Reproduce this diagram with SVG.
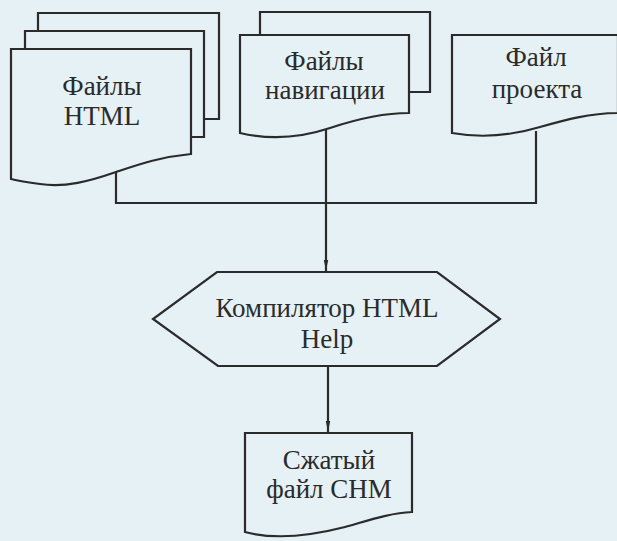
<svg xmlns="http://www.w3.org/2000/svg" width="617" height="541" viewBox="0 0 617 541">
<defs>
<style>
.s{fill:none;stroke:#2b2b2b;stroke-width:2.2;stroke-linejoin:miter}
.f{fill:#e6f1f5;stroke:#2b2b2b;stroke-width:2.2}
.t{font-family:"Liberation Serif","Times New Roman",serif;font-size:27px;fill:#2b2b2b;text-anchor:middle}
.c{fill:none;stroke:#2b2b2b;stroke-width:2.2}
</style>
<marker id="ah" markerWidth="12" markerHeight="6" refX="11" refY="3" orient="auto" markerUnits="userSpaceOnUse">
<path d="M0,0.8 L11,3 L0,5.2 Z" fill="#2b2b2b"/>
</marker>
</defs>
<rect width="617" height="541" fill="#e6f1f5"/>
<g id="connectors">
<polyline class="c" points="116,172 116,203 536,203 536,131"/>
<line class="c" x1="326" y1="129" x2="326" y2="271" marker-end="url(#ah)"/>
<line class="c" x1="328" y1="366" x2="328" y2="432" marker-end="url(#ah)"/>
</g>
<g id="html-files">
<polyline class="s" points="38,31 38,13 219,13 219,119 204,119"/>
<polyline class="s" points="25,49 25,31 204,31 204,137 191,137"/>
<path class="f" d="M11,49 L191,49 L191,154 C160,157 140,164 116,172 C90,181 65,188 40,184 C25,182 15,180 11,179 Z"/>
<text class="t" x="102" y="95">Файлы</text>
<text class="t" x="102" y="125">HTML</text>
</g>
<g id="nav-files">
<polyline class="s" points="260,35 260,12 430,12 430,92 409,92"/>
<path class="f" d="M240,35 L409,35 L409,113 C385,113 360,118 330,128 C300,138 270,140 240,133 Z"/>
<text class="t" x="324" y="70">Файлы</text>
<text class="t" x="325" y="99">навигации</text>
</g>
<g id="project-file">
<path class="f" d="M452,35 L618,35 L618,113 C590,113 565,120 540,127 C510,136 480,138 452,133 Z"/>
<text class="t" x="536" y="66">Файл</text>
<text class="t" x="537" y="98">проекта</text>
</g>
<g id="compiler">
<polygon class="f" points="217,272 437,272 500,319 437,366 218,366 153,319"/>
<text class="t" x="327" y="317">Компилятор HTML</text>
<text class="t" x="327" y="348">Help</text>
</g>
<g id="chm">
<path class="f" d="M245,433 L412,433 L412,512 C390,513 370,520 345,527 C310,536 275,540 245,532 Z"/>
<text class="t" x="329" y="469">Сжатый</text>
<text class="t" x="329" y="498">файл CHM</text>
</g>
</svg>
